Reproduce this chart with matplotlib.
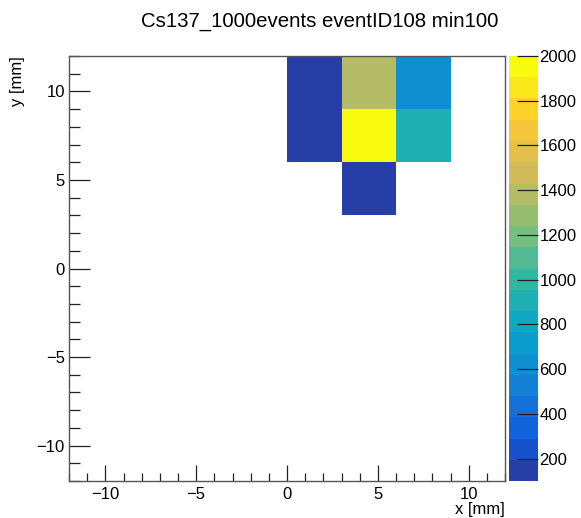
import numpy as np
import matplotlib
matplotlib.use("Agg")
import matplotlib.pyplot as plt
from matplotlib.colors import LinearSegmentedColormap, ListedColormap, BoundaryNorm
from matplotlib.ticker import MultipleLocator

plt.rcParams['font.family'] = ['Liberation Sans', 'DejaVu Sans']

# bin edges (mm) of the filled region and counts per cell (rows = y bins)
x_edges = [0, 3, 6, 9]
y_edges = [3, 6, 9, 12]
counts = [
    [np.nan, 150, np.nan],   # y 3..6
    [150, 2000, 900],        # y 6..9
    [150, 1400, 620],        # y 9..12
]
z_min, z_max = 100, 2000
n_contours = 20
cbar_ticks = [200, 400, 600, 800, 1000, 1200, 1400, 1600, 1800, 2000]

# ROOT kBird palette
stops = [0.0, 0.125, 0.25, 0.375, 0.5, 0.625, 0.75, 0.875, 1.0]
red = [0.2082, 0.0592, 0.0780, 0.0232, 0.1802, 0.5301, 0.8186, 0.9956, 0.9764]
green = [0.1664, 0.3599, 0.5041, 0.6419, 0.7178, 0.7492, 0.7328, 0.7862, 0.9832]
blue = [0.5293, 0.8684, 0.8385, 0.7914, 0.6425, 0.4662, 0.3499, 0.1968, 0.0539]
bird = LinearSegmentedColormap.from_list(
    "bird", [(s, (r, g, b)) for s, r, g, b in zip(stops, red, green, blue)])
cmap = ListedColormap([bird((i + 1) / n_contours) for i in range(n_contours)])
levels = np.linspace(z_min, z_max, n_contours + 1)
norm = BoundaryNorm(levels, cmap.N)

fig = plt.figure(figsize=(5.81, 5.18), dpi=100)
ax = fig.add_axes([0.1188, 0.0714, 0.7504, 0.8205])
cax = fig.add_axes([0.876, 0.0714, 0.050, 0.8205])

data = np.ma.masked_invalid(np.array(counts))
mesh = ax.pcolormesh(x_edges, y_edges, data, cmap=cmap, norm=norm)

ax.set_xlim(-12, 12)
ax.set_ylim(-12, 12)
ax.xaxis.set_major_locator(MultipleLocator(5))
ax.xaxis.set_minor_locator(MultipleLocator(1))
ax.yaxis.set_major_locator(MultipleLocator(5))
ax.yaxis.set_minor_locator(MultipleLocator(1))
ax.tick_params(which='both', direction='in', labelsize=12, width=0.9, color='#222222')
ax.tick_params(axis='x', which='major', length=11.5, pad=4)
ax.tick_params(axis='x', which='minor', length=6)
ax.tick_params(axis='y', which='major', length=15, pad=3)
ax.tick_params(axis='y', which='minor', length=8)
for sp in ax.spines.values():
    sp.set_linewidth(1.0)
    sp.set_color('#555555')

ax.set_title("Cs137_1000events eventID108 min100", fontsize=14.7, pad=21, x=0.575)
ax.set_xlabel("x [mm]", fontsize=12, loc='right', labelpad=0)
ax.set_ylabel("y [mm]", fontsize=12, loc='top', labelpad=8)

cb = fig.colorbar(mesh, cax=cax, ticks=cbar_ticks)
cb.outline.set_visible(False)
cax.tick_params(direction='in', length=15, width=0.9, labelsize=12, pad=1, color='#222222')
cax.minorticks_off()

fig.savefig("out.png", dpi=100)
plt.close(fig)
